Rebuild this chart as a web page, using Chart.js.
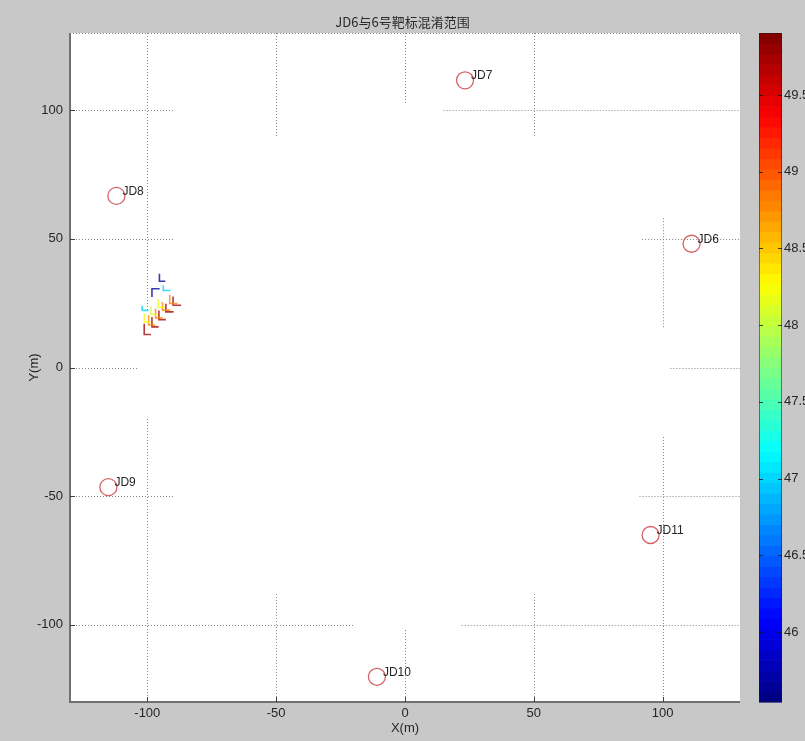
<!DOCTYPE html>
<html>
<head>
<meta charset="utf-8">
<script src="https://cdn.jsdelivr.net/npm/chart.js@4.4.0/dist/chart.umd.min.js"></script>
<style>
  html, body { margin: 0; padding: 0; background: #c8c8c8; }
  #wrap { width: 805px; height: 741px; }
</style>
</head>
<body>
<div id="wrap"><canvas id="c" width="805" height="741"></canvas></div>
<script>
// ---- data ----
const chartTitle = 'JD6与6号靶标混淆范围';
const axisTicks = [-100, -50, 0, 50, 100];
const axisMin = -130;
const axisMax = 130;

const targetNames = ['JD6', 'JD7', 'JD8', 'JD9', 'JD10', 'JD11'];
const targetX = [111.2, 23.3, -112.0, -115.1, -10.9, 95.3];
const targetY = [48.1, 111.6, 66.7, -46.5, -120.2, -65.1];

// colour bar range and ticks
const cbMin = 45.544;
const cbMax = 49.904;
const cbTicks = [46, 46.5, 47, 47.5, 48, 48.5, 49, 49.5];

// confusion contour: one level value per group, each group a list of step polylines [x, y]
const contourLevels = [45.65, 47.0, 48.2, 48.8, 49.75];
const contourPaths = [
  [
    [[-95.3, 36.4], [-95.3, 33.5], [-93.0, 33.5]],
    [[-98.2, 27.4], [-98.2, 30.6], [-95.2, 30.6]]
  ],
  [
    [[-93.8, 32.0], [-93.8, 29.9], [-91.0, 29.9]],
    [[-102.0, 24.0], [-102.0, 22.2], [-99.5, 22.2]]
  ],
  [
    [[-95.8, 26.5], [-95.8, 23.4], [-93.2, 23.4]],
    [[-98.5, 23.8], [-98.5, 20.6], [-96.0, 20.6]],
    [[-101.2, 21.0], [-101.2, 17.6], [-98.7, 17.6]]
  ],
  [
    [[-91.3, 28.3], [-91.3, 24.9], [-88.2, 24.9]],
    [[-94.1, 25.5], [-94.1, 22.3], [-91.1, 22.3]],
    [[-96.8, 22.9], [-96.8, 19.3], [-94.1, 19.3]],
    [[-99.5, 20.3], [-99.5, 16.5], [-96.9, 16.5]]
  ],
  [
    [[-90.0, 27.6], [-90.0, 24.2], [-86.9, 24.2]],
    [[-92.8, 24.8], [-92.8, 21.6], [-89.8, 21.6]],
    [[-95.5, 22.2], [-95.5, 18.6], [-92.8, 18.6]],
    [[-98.2, 19.6], [-98.2, 15.8], [-95.6, 15.8]],
    [[-101.2, 17.0], [-101.2, 12.8], [-98.6, 12.8]]
  ]
];

// visible pieces of the dotted grid: [value, from, to]
const gridVertical = [
  [-100, 130, 22], [-100, -20, -130],
  [-50, 130, 90], [-50, -88, -130],
  [0, 130, 102], [0, -102, -130],
  [50, 130, 90], [50, -88, -130],
  [100, 58, 15], [100, -27, -130]
];
const gridHorizontal = [
  [100, -130, -90], [100, 15, 130],
  [50, -130, -90], [50, 92, 130],
  [0, -130, -104], [0, 103, 130],
  [-50, -130, -90], [-50, 91, 130],
  [-100, -130, -20], [-100, 22, 130]
];

// ---- helpers ----
function jet(t) {
  const c = v => Math.max(0, Math.min(1, v));
  const r = c(1.5 - Math.abs(4 * t - 3));
  const g = c(1.5 - Math.abs(4 * t - 2));
  const b = c(1.5 - Math.abs(4 * t - 1));
  return [Math.round(r * 255), Math.round(g * 255), Math.round(b * 255)];
}
function levelColor(v, a) {
  const [r, g, b] = jet((v - cbMin) / (cbMax - cbMin));
  return `rgba(${r},${g},${b},${a})`;
}
// fixed axis sizes, no extra room reserved for end labels
function fixSize(w, h) {
  return s => {
    if (w !== null) s.width = w;
    if (h !== null) s.height = h;
    s.paddingTop = 0; s.paddingBottom = 0;
    s.paddingLeft = 0; s.paddingRight = 0;
  };
}

const tickFont = { family: '"Liberation Sans Narrow", "Liberation Sans", Arial, sans-serif', size: 13 };
const textColor = '#262626';

// ---- datasets ----
const datasets = [];
contourPaths.forEach((group, gi) => {
  group.forEach(path => {
    datasets.push({
      data: path.map(p => ({ x: p[0], y: p[1] })),
      showLine: true,
      borderColor: levelColor(contourLevels[gi], 0.78),
      borderWidth: 1.6,
      pointRadius: 0,
      fill: false,
      yAxisID: 'y'
    });
  });
});
datasets.push({
  data: targetX.map((x, i) => ({ x, y: targetY[i] })),
  pointStyle: 'circle',
  pointRadius: 8.5,
  pointBorderWidth: 1.3,
  pointBorderColor: 'rgba(205,70,75,0.85)',
  pointBackgroundColor: 'rgba(0,0,0,0)',
  showLine: false,
  yAxisID: 'y'
});

// ---- drawing plugins ----
const backdrop = {
  id: 'backdrop',
  beforeDraw(chart) {
    const { ctx, chartArea: a } = chart;
    ctx.save();
    ctx.fillStyle = '#c8c8c8';
    ctx.fillRect(0, 0, chart.width, chart.height);
    ctx.fillStyle = '#ffffff';
    ctx.fillRect(a.left, a.top, a.right - a.left, a.bottom - a.top);
    ctx.restore();
  },
  beforeDatasetsDraw(chart) {
    const { ctx, chartArea: a, scales } = chart;
    const sx = scales.x, sy = scales.y;
    ctx.save();
    ctx.strokeStyle = 'rgba(95,95,95,0.75)';
    ctx.lineWidth = 1;
    ctx.setLineDash([1, 2]);
    gridVertical.forEach(([v, f, t]) => {
      const x = Math.round(sx.getPixelForValue(v)) + 0.5;
      ctx.beginPath();
      ctx.moveTo(x, sy.getPixelForValue(f));
      ctx.lineTo(x, sy.getPixelForValue(t));
      ctx.stroke();
    });
    gridHorizontal.forEach(([v, f, t]) => {
      const y = Math.round(sy.getPixelForValue(v)) + 0.5;
      ctx.beginPath();
      ctx.moveTo(sx.getPixelForValue(f), y);
      ctx.lineTo(sx.getPixelForValue(t), y);
      ctx.stroke();
    });
    // dotted top edge of the box
    ctx.beginPath();
    ctx.moveTo(a.left, a.top + 0.5);
    ctx.lineTo(a.right, a.top + 0.5);
    ctx.stroke();
    ctx.setLineDash([]);

    // solid left and bottom axes with inward ticks
    ctx.strokeStyle = '#707070';
    ctx.lineWidth = 2;
    ctx.beginPath();
    ctx.moveTo(a.left, a.top);
    ctx.lineTo(a.left, a.bottom);
    ctx.lineTo(a.right, a.bottom);
    ctx.stroke();
    ctx.lineWidth = 1;
    ctx.strokeStyle = '#404040';
    axisTicks.forEach(v => {
      const x = Math.round(sx.getPixelForValue(v)) + 0.5;
      ctx.beginPath();
      ctx.moveTo(x, a.bottom);
      ctx.lineTo(x, a.bottom - 5);
      ctx.stroke();
      const y = Math.round(sy.getPixelForValue(v)) + 0.5;
      ctx.beginPath();
      ctx.moveTo(a.left, y);
      ctx.lineTo(a.left + 5, y);
      ctx.stroke();
    });
    ctx.restore();
  },
  afterDatasetsDraw(chart) {
    const { ctx, scales } = chart;
    ctx.save();
    ctx.font = '12px "Liberation Sans Narrow", "Liberation Sans", Arial, sans-serif';
    ctx.fillStyle = '#262626';
    ctx.textAlign = 'left';
    ctx.textBaseline = 'middle';
    targetNames.forEach((name, i) => {
      const x = scales.x.getPixelForValue(targetX[i]);
      const y = scales.y.getPixelForValue(targetY[i]);
      ctx.fillText(name, x + 6, y - 4.5);
    });
    ctx.restore();
  },
  afterDraw(chart) {
    // colour bar
    const { ctx, chartArea: a, scales } = chart;
    const cb = scales.cb;
    const x0 = a.right + 19, w = 23;
    const n = 64;
    ctx.save();
    for (let i = 0; i < n; i++) {
      const v0 = cbMin + (cbMax - cbMin) * i / n;
      const v1 = cbMin + (cbMax - cbMin) * (i + 1) / n;
      const yTop = cb.getPixelForValue(v1);
      const yBot = cb.getPixelForValue(v0);
      const [r, g, b] = jet((i + 0.5) / n);
      ctx.fillStyle = `rgb(${r},${g},${b})`;
      ctx.fillRect(x0, yTop, w, yBot - yTop + 0.6);
    }
    ctx.strokeStyle = 'rgba(30,30,30,0.55)';
    ctx.lineWidth = 1;
    ctx.strokeRect(x0 + 0.5, a.top + 0.5, w - 1, a.bottom - a.top - 1);
    ctx.strokeStyle = 'rgba(20,20,20,0.8)';
    cbTicks.forEach(v => {
      const y = Math.round(cb.getPixelForValue(v)) + 0.5;
      ctx.beginPath();
      ctx.moveTo(x0, y); ctx.lineTo(x0 + 4, y);
      ctx.moveTo(x0 + w - 4, y); ctx.lineTo(x0 + w, y);
      ctx.stroke();
    });
    ctx.restore();
  }
};

new Chart(document.getElementById('c').getContext('2d'), {
  type: 'scatter',
  data: { datasets },
  plugins: [backdrop],
  options: {
    responsive: false,
    animation: false,
    devicePixelRatio: 1,
    layout: { padding: 0 },
    plugins: {
      legend: { display: false },
      tooltip: { enabled: false },
      title: {
        display: true,
        text: chartTitle,
        color: '#2a2a2a',
        font: { family: '"Noto Sans CJK SC", "Liberation Sans", sans-serif', size: 13, weight: 'normal', lineHeight: 1.2 },
        padding: { top: 14, bottom: 3.4 }
      }
    },
    scales: {
      x: {
        type: 'linear',
        min: axisMin, max: axisMax,
        afterBuildTicks: s => { s.ticks = axisTicks.map(v => ({ value: v })); },
        afterFit: fixSize(null, 39),
        grid: { display: false, drawTicks: false },
        border: { display: false },
        ticks: { padding: 4, font: tickFont, color: textColor, maxRotation: 0, autoSkip: false },
        title: { display: true, text: 'X(m)', color: textColor, font: tickFont, padding: { top: 0, bottom: 5 } }
      },
      y: {
        type: 'linear',
        position: 'left',
        min: axisMin, max: axisMax,
        afterBuildTicks: s => { s.ticks = axisTicks.map(v => ({ value: v })); },
        afterFit: fixSize(70, null),
        grid: { display: false, drawTicks: false },
        border: { display: false },
        ticks: { padding: 7, font: tickFont, color: textColor, autoSkip: false },
        title: { display: true, text: 'Y(m)', color: textColor, font: tickFont, padding: { top: 27, bottom: 0 } }
      },
      cb: {
        type: 'linear',
        position: 'right',
        min: cbMin, max: cbMax,
        afterBuildTicks: s => { s.ticks = cbTicks.map(v => ({ value: v })); },
        afterFit: fixSize(65, null),
        grid: { display: false, drawTicks: false },
        border: { display: false },
        ticks: { padding: 44, font: tickFont, color: textColor, autoSkip: false, callback: v => String(v) }
      }
    }
  }
});
</script>
</body>
</html>
